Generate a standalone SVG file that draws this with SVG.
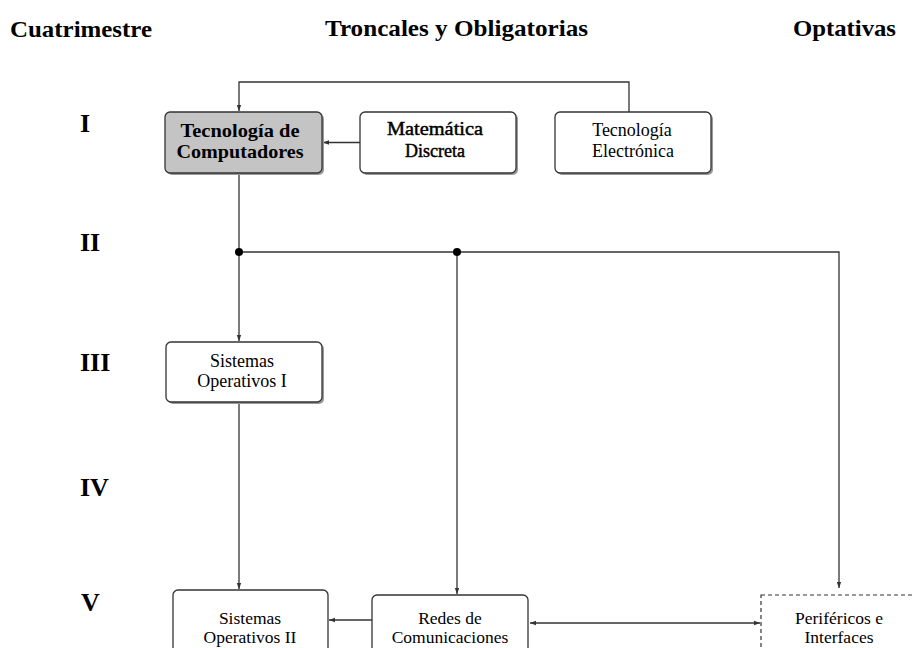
<svg xmlns="http://www.w3.org/2000/svg" width="915" height="648" viewBox="0 0 915 648">
<defs>
<style>
.hdr{font-family:"Liberation Serif","Times New Roman",serif;font-weight:bold;font-size:24px;fill:#000}
.num{font-family:"Liberation Serif","Times New Roman",serif;font-weight:bold;font-size:26px;fill:#000}
.box{fill:#fff;stroke:#333;stroke-width:1.3}
.gray{fill:#c4c4c4;stroke:#333;stroke-width:1.3}
.dash{fill:#fff;stroke:#333;stroke-width:1.2;stroke-dasharray:4 3}
.shadow{fill:#9a9a9a}
.t{font-family:"Liberation Serif","Times New Roman",serif;font-size:18px;fill:#000;text-anchor:middle}
.tl{font-size:17.5px}
.tb{font-weight:bold;font-size:19px}
.ts{stroke:#000;stroke-width:0.45}
.ln{fill:none;stroke:#333;stroke-width:1.3}
</style>
<marker id="ah" viewBox="0 0 6 6" refX="6" refY="3" markerWidth="6" markerHeight="6" markerUnits="userSpaceOnUse" orient="auto-start-reverse">
<path d="M0,0.8 L6,3 L0,5.2 z" fill="#333"/>
</marker>
</defs>
<rect width="915" height="648" fill="#fff"/>

<g id="headers">
<text class="hdr" x="10" y="37" textLength="142" lengthAdjust="spacingAndGlyphs">Cuatrimestre</text>
<text class="hdr" x="325" y="36" textLength="263" lengthAdjust="spacingAndGlyphs">Troncales y Obligatorias</text>
<text class="hdr" x="793" y="36" textLength="103" lengthAdjust="spacingAndGlyphs">Optativas</text>
</g>

<g id="semesters">
<text class="num" x="80" y="132">I</text>
<text class="num" x="80" y="251">II</text>
<text class="num" x="80" y="371">III</text>
<text class="num" x="80" y="496">IV</text>
<text class="num" x="81" y="611">V</text>
</g>

<g id="connectors">
<polyline class="ln" points="629,112 629,82 239,82 239,111" marker-end="url(#ah)"/>
<line class="ln" x1="360" y1="142.5" x2="323" y2="142.5" marker-end="url(#ah)"/>
<line class="ln" x1="239" y1="174" x2="239" y2="341" marker-end="url(#ah)"/>
<polyline class="ln" points="239,252 839,252 839,588" marker-end="url(#ah)"/>
<line class="ln" x1="457" y1="252" x2="457" y2="594" marker-end="url(#ah)"/>
<line class="ln" x1="239" y1="403" x2="239" y2="589" marker-end="url(#ah)"/>
<line class="ln" x1="372" y1="620" x2="329" y2="620" marker-end="url(#ah)"/>
<line class="ln" x1="530" y1="623" x2="760" y2="623" marker-start="url(#ah)" marker-end="url(#ah)"/>
<circle cx="239" cy="252" r="4" fill="#000"/>
<circle cx="457" cy="252" r="4" fill="#000"/>
</g>

<g id="tec-computadores">
<rect class="shadow" x="167" y="114" width="157" height="61" rx="5"/>
<rect class="gray" x="165" y="112" width="157" height="61" rx="5"/>
<text class="t tb" x="240" y="137" textLength="119" lengthAdjust="spacingAndGlyphs">Tecnología de</text>
<text class="t tb" x="240" y="158" textLength="127" lengthAdjust="spacingAndGlyphs">Computadores</text>
</g>

<g id="matematica-discreta">
<rect class="shadow" x="362" y="114" width="156" height="61" rx="5"/>
<rect class="box" x="360" y="112" width="156" height="61" rx="5"/>
<text class="t ts" x="435" y="135" textLength="96" lengthAdjust="spacingAndGlyphs">Matemática</text>
<text class="t ts" x="435" y="157">Discreta</text>
</g>

<g id="tec-electronica">
<rect class="shadow" x="557" y="114" width="156" height="61" rx="5"/>
<rect class="box" x="555" y="112" width="156" height="61" rx="5"/>
<text class="t" x="632" y="136">Tecnología</text>
<text class="t" x="633" y="157">Electrónica</text>
</g>

<g id="sistemas-operativos-1">
<rect class="shadow" x="168" y="344" width="156" height="60" rx="5"/>
<rect class="box" x="166" y="342" width="156" height="60" rx="5"/>
<text class="t" x="242" y="367">Sistemas</text>
<text class="t" x="242" y="387">Operativos I</text>
</g>

<g id="sistemas-operativos-2">
<rect class="box" x="173" y="590" width="155" height="62" rx="5"/>
<text class="t tl" x="250" y="624">Sistemas</text>
<text class="t tl" x="250" y="643">Operativos II</text>
</g>

<g id="redes-comunicaciones">
<rect class="box" x="372" y="595" width="156" height="62" rx="5"/>
<text class="t tl" x="450" y="624">Redes de</text>
<text class="t tl" x="450" y="643">Comunicaciones</text>
</g>

<g id="perifericos-interfaces">
<rect class="dash" x="761" y="595" width="160" height="62"/>
<text class="t tl" x="839" y="624">Periféricos e</text>
<text class="t tl" x="839" y="643">Interfaces</text>
</g>
</svg>
